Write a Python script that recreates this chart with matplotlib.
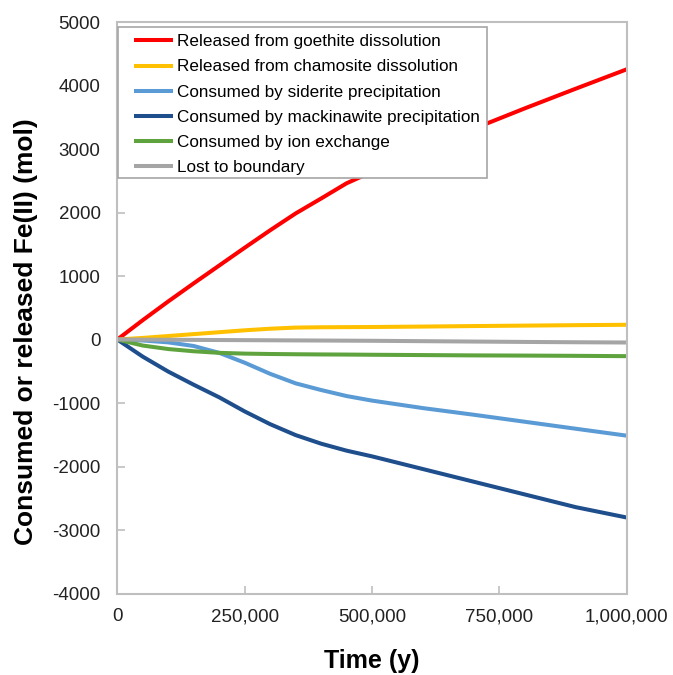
import matplotlib
matplotlib.use('Agg')
import matplotlib.pyplot as plt
from matplotlib.patches import Rectangle
from matplotlib.ticker import FuncFormatter, MultipleLocator

plt.rcParams['font.family'] = ['Liberation Sans', 'DejaVu Sans']
plt.rcParams['axes.unicode_minus'] = False

## Time in thousands of years
time_ky = [0, 50, 100, 150, 200, 250, 300, 350, 400, 450, 500, 600, 700, 800, 900, 1000]

## Fe(II) budgets (mol)
goethite = [0, 305, 600, 885, 1165, 1445, 1720, 1985, 2220, 2460, 2640, 2980, 3320, 3640, 3950, 4255]
chamosite = [0, 25, 55, 85, 115, 145, 170, 188, 193, 195, 197, 204, 212, 219, 226, 232]
siderite = [0, -15, -45, -102, -210, -365, -540, -690, -795, -890, -962, -1080, -1185, -1295, -1405, -1514]
mackinawite = [0, -270, -505, -712, -910, -1132, -1333, -1505, -1640, -1750, -1840, -2040, -2240, -2440, -2640, -2803]
ion_exchange = [0, -95, -150, -185, -210, -222, -228, -232, -235, -237, -240, -245, -250, -253, -257, -262]
boundary = [0, -2, -4, -6, -8, -10, -12, -14, -16, -18, -20, -26, -32, -38, -43, -47]

labels = ['Released from goethite dissolution',
          'Released from chamosite dissolution',
          'Consumed by siderite precipitation',
          'Consumed by mackinawite precipitation',
          'Consumed by ion exchange',
          'Lost to boundary']
colors = ['#FF0000', '#FFC000', '#5B9BD5', '#1F4E8C', '#5FA33E', '#A5A5A5']
series = [goethite, chamosite, siderite, mackinawite, ion_exchange, boundary]

time_y = [t * 1000 for t in time_ky]

fig = plt.figure(figsize=(6.73, 6.75), dpi=100)
ax = fig.add_axes([0.1743, 0.1207, 0.7569, 0.8467])

for vals, lab, col in zip(series, labels, colors):
    ax.plot(time_y, vals, color=col, lw=2.9, label=lab, solid_capstyle='butt')

ax.set_xlim(0, 1000000)
ax.set_ylim(-4000, 5000)
ax.xaxis.set_major_locator(MultipleLocator(250000))
ax.yaxis.set_major_locator(MultipleLocator(1000))
ax.xaxis.set_major_formatter(FuncFormatter(lambda v, p: '{:,.0f}'.format(v)))

frame_col = '#BFBFBF'
for sp in ax.spines.values():
    sp.set_color(frame_col)
    sp.set_linewidth(1.5)
ax.tick_params(axis='x', direction='in', length=6, width=1.2, color=frame_col,
               labelsize=13.5, pad=10.5, labelcolor='#222222')
ax.tick_params(axis='y', direction='in', length=6, width=1.2, color=frame_col,
               labelsize=13.5, pad=12, labelcolor='#222222')

ax.set_xlabel('Time (y)', fontsize=18, fontweight='bold', labelpad=17)
ax.set_ylabel('Consumed or released Fe(II) (mol)', fontsize=19, fontweight='bold')
ax.yaxis.set_label_coords(-0.156, 0.459)

## legend box drawn by hand so the padding matches the original
ax.add_patch(Rectangle((0.002, 0.7265), 0.7243, 0.2639, transform=ax.transAxes,
                       facecolor='white', edgecolor='#A6A6A6', lw=1.2, zorder=4))
leg = ax.legend(loc='upper left', bbox_to_anchor=(0.0328, 0.9783), borderaxespad=0,
                fontsize=12.3, handlelength=2.3, handletextpad=0.2, labelspacing=0.59,
                borderpad=0, frameon=False)
leg.set_zorder(5)
for ln in leg.get_lines():
    ln.set_linewidth(2.9)

fig.savefig('out.png', dpi=100)
